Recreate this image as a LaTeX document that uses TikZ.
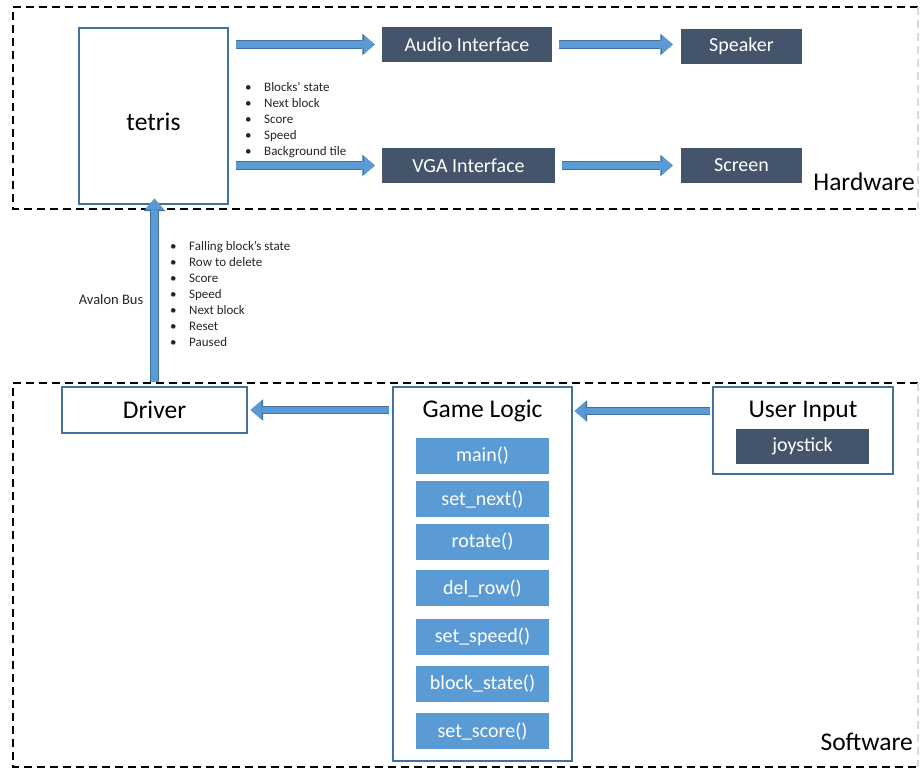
\documentclass[tikz,border=0pt]{standalone}
\usepackage{fontspec}
\setmainfont{Carlito}
\usetikzlibrary{arrows.meta,positioning}
\definecolor{boxline}{HTML}{41719C}
\definecolor{funcblue}{HTML}{5B9BD5}
\definecolor{hwdark}{HTML}{44546A}
\tikzstyle{module}=[
	rectangle,
	draw=boxline,
	line width=1.2,
	inner sep=0]
\tikzstyle{device}=[
	rectangle,
	fill=hwdark,
	text=white,
	inner sep=0,
	minimum height=35,
	font=\fontsize{20}{24}\selectfont]
\tikzstyle{func}=[
	rectangle,
	fill=funcblue,
	text=white,
	inner sep=0,
	minimum width=133,
	minimum height=36,
	font=\fontsize{20}{24}\selectfont]
\tikzstyle{bigtext}=[
	inner sep=0,
	font=\fontsize{25.5}{30}\selectfont]
\tikzstyle{notes}=[
	align=left,
	inner sep=0,
	text=black!85,
	font=\fontsize{13}{16}\selectfont]
\tikzstyle{bus}=[
	draw=funcblue,
	line width=6.5pt,
	-{Triangle[width=19pt,length=11pt,line width=0pt]},
	preaction={draw=boxline,line width=8.5pt,-{Triangle[width=21.5pt,length=12.5pt,line width=0pt]}}]
\tikzstyle{layer}=[
	draw=black,
	line width=1.3,
	dash pattern=on 8pt off 5pt]
\newcommand{\bul}{\makebox[19pt][l]{\textbullet}}

\begin{document}
\begin{tikzpicture}[x=1pt,y=-1pt]
	\useasboundingbox[fill=white] (0,0) rectangle (921,771);
	% hardware side
	\draw[layer] (918,7) -| (13,209) -- (918,209);
	\draw[layer,draw=gray!30] (918,7) -- (918,209);
	\node[module,bigtext,minimum width=149,minimum height=176,text height=28pt,text depth=0pt]	(tetris)	at (153.5,116)	{tetris};
	\node[device,minimum width=170]	(audio)		at (467,44.5)	{Audio Interface};
	\node[device,minimum width=121]	(speaker)	at (741.5,46.5)	{Speaker};
	\node[device,minimum width=173]	(vga)		at (468.5,165.5)	{VGA Interface};
	\node[device,minimum width=121]	(screen)	at (741.5,165.5)	{Screen};
	\node[bigtext,anchor=east]	(hw)	at (915,182)	{Hardware};
	\node[notes,anchor=north west]	(hwdata)	at (245,82)
		{\bul Blocks’ state\\ \bul Next block\\ \bul Score\\ \bul Speed\\ \bul Background tile};
	\draw[bus,shorten <=7,shorten >=7]	(tetris.east |- audio.west) -- (audio.west);
	\draw[bus,shorten <=7,shorten >=7]	(tetris.east |- vga.west) -- (vga.west);
	\draw[bus,shorten <=7,shorten >=8]	(audio.east) -- (audio.east -| speaker.west);
	\draw[bus,shorten <=7,shorten >=8]	(vga.east) -- (speaker.west |- vga.east);
	% software side
	\draw[layer] (918,383) -| (13,767) -- (918,767);
	\draw[layer,draw=gray!30] (918,383) -- (918,767);
	\node[module,bigtext,minimum width=185,minimum height=46]	(driver)	at (154.5,410)	{Driver};
	\node[module,minimum width=179,minimum height=374]	(game)	at (482.5,574)	{};
	\node[bigtext]	(gametitle)	at (482.5,411)	{Game Logic};
	\node[func]	(main)	at (482.5,456)	{main()};
	\node[func]	(next)	[below=7pt of main]	{set\_next()};
	\node[func]	(rotate)	[below=6pt of next]	{rotate()};
	\node[func]	(delrow)	[below=10pt of rotate]	{del\_row()};
	\node[func]	(speed)	[below=12pt of delrow]	{set\_speed()};
	\node[func]	(state)	[below=11pt of speed]	{block\_state()};
	\node[func]	(score)	[below=11pt of state]	{set\_score()};
	\node[module,minimum width=180,minimum height=87]	(user)	at (803,430.5)	{};
	\node[bigtext]	(usertitle)	at (803,411)	{User Input};
	\node[device,minimum width=133]	(joy)	at (802.5,446.5)	{joystick};
	\node[bigtext,anchor=east]	(sw)	at (913,742)	{Software};
	\draw[bus,shorten <=3,shorten >=3]	(game.west |- driver.east) -- (driver.east);
	\draw[bus,shorten <=2,shorten >=2]	(user.west |- gametitle) -- (game.east |- gametitle);
	% avalon bus
	\draw[bus,shorten <=4,shorten >=-6]	(driver.north) -- (driver.north |- tetris.south)
		node[pos=0.48,left=8,inner sep=0,font=\fontsize{14.5}{17}\selectfont,text=black!85]	(avalon)	{Avalon Bus};
	\node[notes,anchor=north west]	(swdata)	at (170,241)
		{\bul Falling block’s state\\ \bul Row to delete\\ \bul Score\\ \bul Speed\\ \bul Next block\\ \bul Reset\\ \bul Paused};
\end{tikzpicture}
\end{document}
